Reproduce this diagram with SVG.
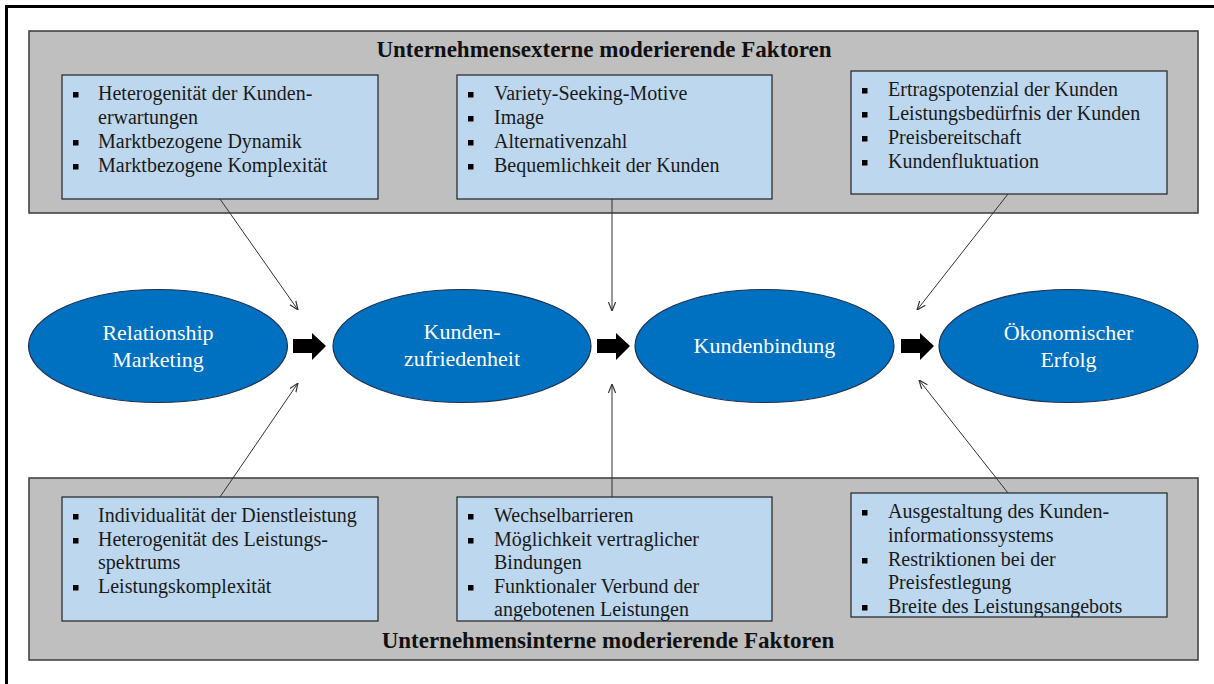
<svg xmlns="http://www.w3.org/2000/svg" width="1214" height="684" viewBox="0 0 1214 684">
<style>
.frame{fill:#fff;stroke:#000;stroke-width:3}
.panel{fill:#bfbfbf;stroke:#3a3a3a;stroke-width:1.5}
.box{fill:#bdd7ee;stroke:#222;stroke-width:1.2}
.item{font-family:"Liberation Serif","Times New Roman",serif;font-size:20px;fill:#1a1a1a}
.title{font-family:"Liberation Serif","Times New Roman",serif;font-size:23px;font-weight:bold;fill:#111;text-anchor:middle}
.oval{fill:#0070c0;stroke:#1f2f4f;stroke-width:1.2}
.otext{font-family:"Liberation Serif","Times New Roman",serif;font-size:22px;fill:#fff;text-anchor:middle}
.bul{fill:#000}
.conn{stroke:#333;stroke-width:1;fill:none}
.block{fill:#000}
</style>
<defs>
<marker id="ah" viewBox="0 0 10 10" refX="10" refY="5" markerWidth="9" markerHeight="9" markerUnits="userSpaceOnUse" orient="auto">
<path d="M0,1 L10,5 L0,9" fill="none" stroke="#333" stroke-width="1.3"/>
</marker>
<clipPath id="cBM"><rect x="457" y="497" width="315" height="124"/></clipPath>
<clipPath id="cBR"><rect x="851" y="493" width="316" height="124"/></clipPath>
</defs>
<rect class="frame" x="6.5" y="6.5" width="1220" height="690"/>

<g id="panel-extern">
<rect class="panel" x="29" y="31" width="1169" height="182"/>
<text class="title" x="604" y="57">Unternehmensexterne moderierende Faktoren</text>
</g>
<g id="panel-intern">
<rect class="panel" x="29" y="478" width="1169" height="182"/>
<text class="title" x="608" y="648">Unternehmensinterne moderierende Faktoren</text>
</g>

<g id="box-ext-left">
<rect class="box" x="62" y="75" width="316" height="124"/>
<rect class="bul" x="73" y="92" width="5.5" height="5.5"/>
<rect class="bul" x="73" y="140" width="5.5" height="5.5"/>
<rect class="bul" x="73" y="164" width="5.5" height="5.5"/>
<text class="item" x="98" y="100">Heterogenität der Kunden-</text>
<text class="item" x="98" y="124">erwartungen</text>
<text class="item" x="98" y="148">Marktbezogene Dynamik</text>
<text class="item" x="98" y="172">Marktbezogene Komplexität</text>
</g>
<g id="box-ext-mid">
<rect class="box" x="457" y="75" width="315" height="124"/>
<rect class="bul" x="468" y="92" width="5.5" height="5.5"/>
<rect class="bul" x="468" y="116" width="5.5" height="5.5"/>
<rect class="bul" x="468" y="140" width="5.5" height="5.5"/>
<rect class="bul" x="468" y="164" width="5.5" height="5.5"/>
<text class="item" x="494" y="100">Variety-Seeking-Motive</text>
<text class="item" x="494" y="124">Image</text>
<text class="item" x="494" y="148">Alternativenzahl</text>
<text class="item" x="494" y="172">Bequemlichkeit der Kunden</text>
</g>
<g id="box-ext-right">
<rect class="box" x="851" y="71" width="316" height="123"/>
<rect class="bul" x="862" y="88" width="5.5" height="5.5"/>
<rect class="bul" x="862" y="112" width="5.5" height="5.5"/>
<rect class="bul" x="862" y="136" width="5.5" height="5.5"/>
<rect class="bul" x="862" y="160" width="5.5" height="5.5"/>
<text class="item" x="888" y="96">Ertragspotenzial der Kunden</text>
<text class="item" x="888" y="120">Leistungsbedürfnis der Kunden</text>
<text class="item" x="888" y="144">Preisbereitschaft</text>
<text class="item" x="888" y="168">Kundenfluktuation</text>
</g>

<g id="box-int-left">
<rect class="box" x="62" y="497" width="316" height="124"/>
<rect class="bul" x="73" y="514" width="5.5" height="5.5"/>
<rect class="bul" x="73" y="538" width="5.5" height="5.5"/>
<rect class="bul" x="73" y="585" width="5.5" height="5.5"/>
<text class="item" x="98" y="522">Individualität der Dienstleistung</text>
<text class="item" x="98" y="546">Heterogenität des Leistungs-</text>
<text class="item" x="98" y="569">spektrums</text>
<text class="item" x="98" y="593">Leistungskomplexität</text>
</g>
<g id="box-int-mid">
<rect class="box" x="457" y="497" width="315" height="124"/>
<g clip-path="url(#cBM)">
<rect class="bul" x="468" y="514" width="5.5" height="5.5"/>
<rect class="bul" x="468" y="538" width="5.5" height="5.5"/>
<rect class="bul" x="468" y="585" width="5.5" height="5.5"/>
<text class="item" x="494" y="522">Wechselbarrieren</text>
<text class="item" x="494" y="546">Möglichkeit vertraglicher</text>
<text class="item" x="494" y="569">Bindungen</text>
<text class="item" x="494" y="593">Funktionaler Verbund der</text>
<text class="item" x="494" y="616">angebotenen Leistungen</text>
</g>
</g>
<g id="box-int-right">
<rect class="box" x="851" y="493" width="316" height="124"/>
<g clip-path="url(#cBR)">
<rect class="bul" x="862" y="510" width="5.5" height="5.5"/>
<rect class="bul" x="862" y="558" width="5.5" height="5.5"/>
<rect class="bul" x="862" y="605" width="5.5" height="5.5"/>
<text class="item" x="888" y="518">Ausgestaltung des Kunden-</text>
<text class="item" x="888" y="542">informationssystems</text>
<text class="item" x="888" y="566">Restriktionen bei der</text>
<text class="item" x="888" y="589">Preisfestlegung</text>
<text class="item" x="888" y="613">Breite des Leistungsangebots</text>
</g>
</g>

<g id="node-rm">
<ellipse class="oval" cx="158" cy="346" rx="129.5" ry="56.5"/>
<text class="otext" x="158" y="340">Relationship</text>
<text class="otext" x="158" y="367">Marketing</text>
</g>
<g id="node-kz">
<ellipse class="oval" cx="462" cy="346" rx="129" ry="56.5"/>
<text class="otext" x="462" y="339">Kunden-</text>
<text class="otext" x="462" y="366">zufriedenheit</text>
</g>
<g id="node-kb">
<ellipse class="oval" cx="764.5" cy="346" rx="129.5" ry="56.5"/>
<text class="otext" x="764.5" y="353">Kundenbindung</text>
</g>
<g id="node-oe">
<ellipse class="oval" cx="1068.5" cy="346" rx="129.5" ry="56.5"/>
<text class="otext" x="1068.5" y="340">Ökonomischer</text>
<text class="otext" x="1068.5" y="367">Erfolg</text>
</g>

<g id="connectors">
<path class="block" d="M293,339 H312 V333 L326,346 L312,360 V353 H293 Z"/>
<path class="block" d="M597,339 H616 V333 L630,346 L616,360 V353 H597 Z"/>
<path class="block" d="M901,339 H920 V333 L934,346 L920,360 V353 H901 Z"/>
<line class="conn" x1="220" y1="199" x2="298" y2="310" marker-end="url(#ah)"/>
<line class="conn" x1="612" y1="199" x2="612" y2="311" marker-end="url(#ah)"/>
<line class="conn" x1="1008" y1="194" x2="917" y2="310" marker-end="url(#ah)"/>
<line class="conn" x1="220" y1="497" x2="298" y2="383" marker-end="url(#ah)"/>
<line class="conn" x1="612" y1="497" x2="612" y2="384" marker-end="url(#ah)"/>
<line class="conn" x1="1008" y1="493" x2="919" y2="380" marker-end="url(#ah)"/>
</g>
</svg>
